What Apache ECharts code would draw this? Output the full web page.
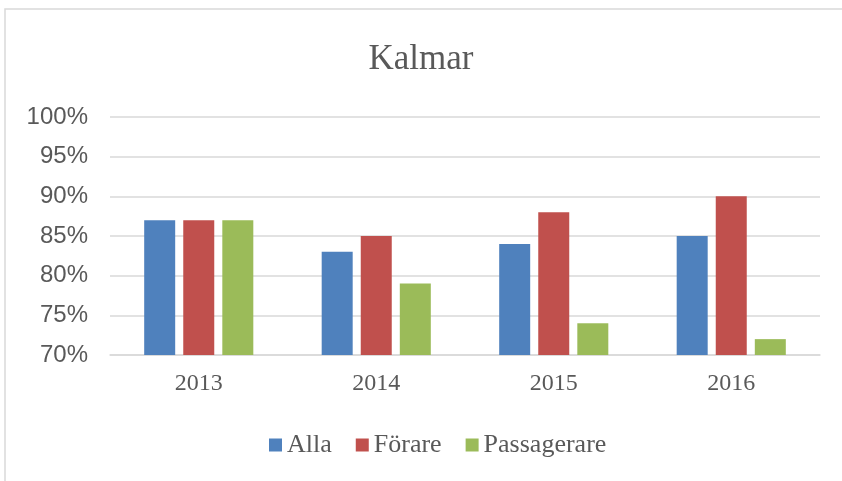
<!DOCTYPE html>
<html>
<head>
<meta charset="utf-8">
<style>
  html, body { margin: 0; padding: 0; background: #fff; }
  #chart { width: 842px; height: 481px; }
</style>
<script src="https://cdn.jsdelivr.net/npm/echarts@6/dist/echarts.min.js"></script>
</head>
<body>
<div id="chart"></div>
<script>
var years = ['2013', '2014', '2015', '2016'];
var alla = [87, 83, 84, 85];
var forare = [87, 85, 88, 90];
var passagerare = [87, 79, 74, 72];

var myChart = echarts.init(document.getElementById('chart'));
var serif = '"Liberation Serif", "DejaVu Serif", serif';
var grey = '#595959';

var option = {
  animation: false,
  graphic: [
    {
      type: 'rect',
      shape: { x: 5, y: 9, width: 1200, height: 800 },
      style: { fill: 'none', stroke: '#d9d9d9', lineWidth: 1.5 },
      silent: true
    }
  ],
  title: {
    text: 'Kalmar',
    left: 'center',
    top: 37,
    textStyle: { fontFamily: serif, fontSize: 35, fontWeight: 'normal', color: grey }
  },
  legend: {
    top: 427,
    left: 264,
    itemWidth: 13,
    itemHeight: 13,
    itemGap: 24,
    icon: 'rect',
    textStyle: { fontFamily: serif, fontSize: 26, color: grey },
    data: ['Alla', 'Förare', 'Passagerare']
  },
  grid: { left: 110, right: 22, top: 117, bottom: 126 },
  xAxis: {
    type: 'category',
    data: years,
    axisLine: { lineStyle: { color: '#d9d9d9', width: 1.5 } },
    axisTick: { show: false },
    axisLabel: { fontFamily: serif, fontSize: 24, color: grey, margin: 17 }
  },
  yAxis: {
    type: 'value',
    min: 70,
    max: 100,
    interval: 5,
    axisLine: { show: false },
    axisTick: { show: false },
    splitLine: { lineStyle: { color: '#d9d9d9', width: 1.5 } },
    axisLabel: {
      formatter: '{value}%',
      fontFamily: '"Liberation Sans", Arial, sans-serif',
      fontSize: 24,
      color: grey,
      margin: 22
    }
  },
  series: [
    { name: 'Alla', type: 'bar', data: alla, barWidth: 31, barGap: '26%', itemStyle: { color: '#4f81bd' } },
    { name: 'Förare', type: 'bar', data: forare, barWidth: 31, barGap: '26%', itemStyle: { color: '#c0504d' } },
    { name: 'Passagerare', type: 'bar', data: passagerare, barWidth: 31, barGap: '26%', itemStyle: { color: '#9bbb59' } }
  ]
};

myChart.setOption(option);
</script>
</body>
</html>
